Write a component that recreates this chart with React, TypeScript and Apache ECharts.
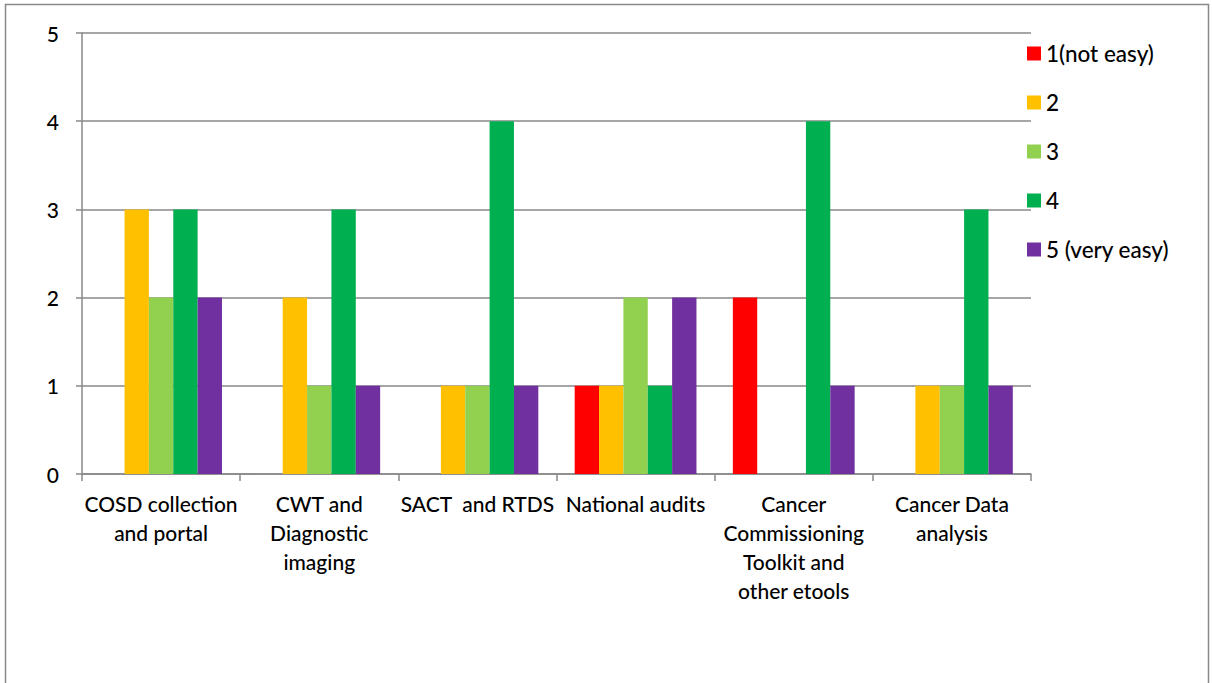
import React, { useEffect, useRef } from "react";
import * as echarts from "echarts";

const categories = [
  "COSD collection\nand portal",
  "CWT and\nDiagnostic\nimaging",
  "SACT  and RTDS",
  "National audits",
  "Cancer\nCommissioning\nToolkit and\nother etools",
  "Cancer Data\nanalysis",
];
const seriesNames = ["1(not easy)", "2", "3", "4", "5 (very easy)"];
const colors = ["#FF0000", "#FFC000", "#92D050", "#00B050", "#7030A0"];
const s1 = [0, 0, 0, 1, 2, 0];
const s2 = [3, 2, 1, 1, 0, 1];
const s3 = [2, 1, 1, 2, 0, 1];
const s4 = [3, 3, 4, 1, 4, 3];
const s5 = [2, 1, 1, 2, 1, 1];
const seriesData = [s1, s2, s3, s4, s5];
const yTicks = [0, 1, 2, 3, 4, 5];

const FONT = "Lato, 'Open Sans', sans-serif";
const GRAY = "#888888";

export default function App() {
  const ref = useRef<HTMLDivElement>(null);
  useEffect(() => {
    if (!ref.current) return;
    const chart = echarts.init(ref.current, undefined, { renderer: "svg" });
    chart.setOption({
      animation: false,
      backgroundColor: "#ffffff",
      textStyle: { fontFamily: FONT },
      graphic: [
        {
          type: "rect",
          shape: { x: 5.5, y: 4.5, width: 1203, height: 720 },
          style: { fill: "none", stroke: GRAY, lineWidth: 1.5 },
          silent: true,
          z: 100,
        },
      ],
      legend: {
        orient: "vertical",
        left: 1022,
        top: 37,
        icon: "rect",
        itemWidth: 14,
        itemHeight: 14,
        itemGap: 26,
        textStyle: { fontSize: 22.5, color: "#000", fontFamily: FONT, fontWeight: 500 },
        data: seriesNames,
      },
      grid: { left: 82, right: 181, top: 33, bottom: 209, containLabel: false },
      xAxis: {
        type: "category",
        data: categories,
        axisLine: { lineStyle: { color: GRAY, width: 1.5 } },
        axisTick: { show: true, length: 7, lineStyle: { color: GRAY, width: 1.5 }, alignWithLabel: false },
        axisLabel: {
          interval: 0,
          fontSize: 21,
          lineHeight: 29,
          color: "#000",
          margin: 15,
          fontFamily: FONT,
          fontWeight: 500,
        },
      },
      yAxis: {
        type: "value",
        min: yTicks[0],
        max: yTicks[yTicks.length - 1],
        interval: 1,
        axisLine: { show: true, lineStyle: { color: GRAY, width: 1.5 } },
        axisTick: { show: true, length: 6, lineStyle: { color: GRAY, width: 1.5 } },
        splitLine: { show: true, lineStyle: { color: GRAY, width: 1.5 } },
        axisLabel: { fontSize: 21, color: "#000", margin: 23, fontFamily: FONT, fontWeight: 500 },
      },
      series: seriesNames.map((name, i) => ({
        name,
        type: "bar",
        data: seriesData[i],
        itemStyle: { color: colors[i] },
        barGap: "0%",
        barCategoryGap: "23%",
      })),
    });
    return () => chart.dispose();
  }, []);
  return (
    <div
      ref={ref}
      style={{ position: "fixed", left: 0, top: 0, width: 1212, height: 683 }}
    />
  );
}
